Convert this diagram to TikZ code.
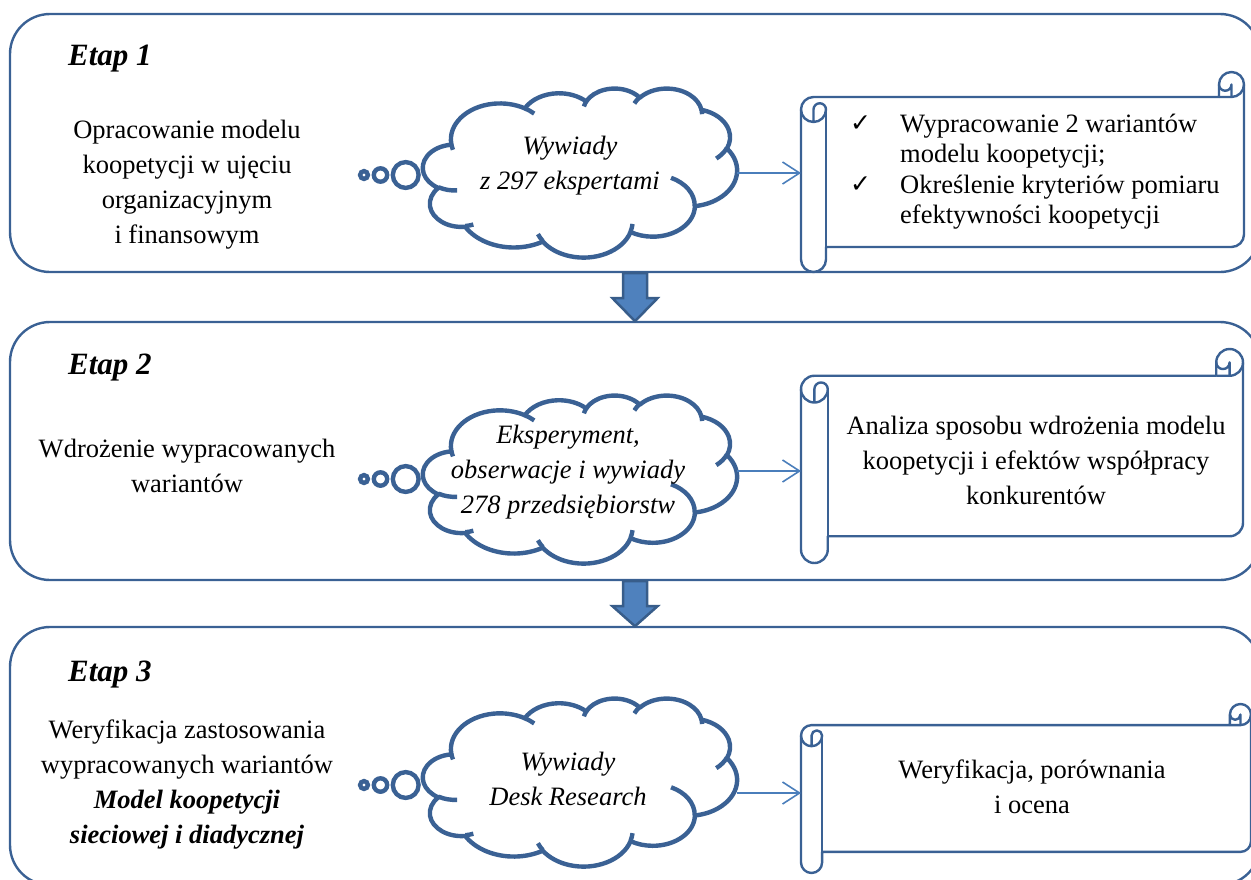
\documentclass[tikz,border=0pt]{standalone}
\usepackage{fontspec}
\setmainfont{Liberation Serif}
\newfontfamily\checkfont{DejaVu Sans}
\usetikzlibrary{calc,arrows.meta}

\definecolor{frameblue}{HTML}{3A6194}
\definecolor{linkblue}{HTML}{4A7EBB}
\definecolor{arrowfill}{HTML}{4F81BD}
\definecolor{arrowedge}{HTML}{385D8A}

% Elliptical arc appended to a path buffer. Start and sweep are ray angles
% (degrees, clockwise in a y-down frame); they are turned into the
% parametric angles that TikZ's arc expects.
\newcommand\appendarc[5]{%
  \pgfmathsetmacro\arcS{atan2((#2)*sin(#4),(#3)*cos(#4))}%
  \pgfmathsetmacro\arcE{atan2((#2)*sin((#4)+(#5)),(#3)*cos((#4)+(#5)))}%
  \pgfmathsetmacro\arcD{(\arcE)-(\arcS)}%
  \pgfmathsetmacro\arcD{(\arcD)+360*round(((#5)-(\arcD))/360)}%
  \xdef#1{#1 arc[start angle=\arcS,delta angle=\arcD,x radius=#2,y radius=#3]}%
}

% Cloud outline in a 432 x 432 frame
\gdef\cloudout{(39,143.7)}
\appendarc\cloudout{67.53}{91.90}{-190.4875}{123.7805}
\appendarc\cloudout{53.33}{72.67}{-144.1024}{89.9452}
\appendarc\cloudout{43.65}{59.45}{-145.8079}{99.7230}
\appendarc\cloudout{48.57}{65.95}{-130.9861}{117.2417}
\appendarc\cloudout{53.33}{72.73}{-78.7089}{109.0269}
\appendarc\cloudout{67.75}{92.20}{-46.2673}{130.2690}
\appendarc\cloudout{57.85}{78.67}{0.6250}{114.0333}
\appendarc\cloudout{67.52}{92.15}{22.4516}{115.1726}
\appendarc\cloudout{77.20}{105.43}{66.2426}{75.7110}
\appendarc\cloudout{43.60}{59.18}{-274.9421}{146.7356}
\appendarc\cloudout{43.45}{59.45}{-246.8285}{152.5189}
\xdef\cloudout{\cloudout -- cycle}

% Short inner strokes where the puffs overlap
\gdef\cloudin{}
\newcommand\innerarc[6]{\xdef\cloudin{\cloudin (#1,#2)}\appendarc\cloudin{#3}{#4}{#5}{#6}}
\innerarc{46.93}{261.77}{43.45}{59.45}{86.7420}{26.4295}
\innerarc{69.28}{348.99}{43.60}{59.18}{73.6105}{11.4475}
\innerarc{164.78}{390.90}{67.52}{92.15}{137.6242}{14.0811}
\innerarc{288.27}{347.51}{67.52}{92.15}{6.4533}{15.9984}
\innerarc{341.29}{229.54}{57.85}{78.67}{-70.2924}{70.9174}
\innerarc{417.98}{153.54}{53.33}{72.73}{30.3180}{27.7515}
\innerarc{383.24}{54.26}{48.57}{65.95}{-13.7443}{14.8589}
\innerarc{290.78}{39.52}{48.57}{65.95}{-149.1815}{18.1954}
\innerarc{221.41}{47.20}{43.65}{59.45}{-163.4943}{17.6864}
\innerarc{140.00}{51.92}{67.53}{91.90}{-66.7070}{12.3194}
\innerarc{41.27}{157.89}{67.53}{91.90}{157.6544}{11.8582}

\tikzset{
  stagebox/.style={draw=frameblue, line width=2.4pt, rounded corners=40pt,
    minimum width=1250pt, minimum height=258pt, inner sep=0pt},
  cloudline/.style={draw=frameblue, line width=4.4pt, line join=round, fill=white},
  bubble/.style={draw=frameblue, line width=4.4pt, fill=white},
  scrollline/.style={draw=frameblue, line width=2.4pt, line join=round},
  link/.style={draw=linkblue, line width=1.6pt, -{Straight Barb[length=17pt,width=22pt]}},
  blockarrow/.style={fill=arrowfill, draw=arrowedge, line width=2.5pt},
  area/.style={inner sep=0pt, outer sep=0pt},
  txt/.style={font=\fontsize{26.5}{35}\selectfont, align=center, inner sep=0pt},
  cloudtxt/.style={txt, font=\fontsize{26.5}{35}\selectfont\itshape},
  listtxt/.style={font=\fontsize{26.5}{30.5}\selectfont, align=left, inner sep=0pt},
  stagelabel/.style={font=\fontsize{31}{35}\selectfont\bfseries\itshape, inner sep=0pt, anchor=base west},
  tick/.style={font=\fontsize{25}{26}\selectfont\checkfont, inner sep=0pt}
}

% cloud: left, top, width, height
\newcommand\drawcloud[4]{%
  \begin{scope}[shift={(#1,#2)},xscale=#3/432,yscale=#4/432]
    \path[cloudline] \cloudout;
    \path[cloudline,fill=none] \cloudin;
  \end{scope}}

% horizontal scroll: left, top, width, height, roll size
\newcommand\drawscroll[5]{%
  \begin{scope}[shift={(#1,#2)}]
    \pgfmathsetmacro\sW{#3}\pgfmathsetmacro\sB{#4}%
    \pgfmathsetmacro\sC{#5}\pgfmathsetmacro\sH{#5/2}\pgfmathsetmacro\sQ{#5/4}%
    \draw[scrollline,fill=white] (0,1.5*\sC) arc[start angle=180,delta angle=90,radius=\sH]
      -- (\sW-\sC,\sC) -- (\sW-\sC,\sH) arc[start angle=180,delta angle=180,radius=\sH]
      -- (\sW,\sB-1.5*\sC) arc[start angle=0,delta angle=90,radius=\sH]
      -- (\sC,\sB-\sC) -- (\sC,\sB-\sH) arc[start angle=0,delta angle=180,radius=\sH] -- cycle;
    \draw[scrollline] (\sW-\sC,\sC) -- (\sW-\sH,\sC) arc[start angle=90,delta angle=-90,radius=\sH];
    \draw[scrollline] (\sW-\sH,\sC) -- (\sW-\sH,\sH) arc[start angle=0,delta angle=180,radius=\sQ];
    \draw[scrollline] (\sH,2*\sC) -- (\sH,1.5*\sC) arc[start angle=180,delta angle=180,radius=\sQ]
      arc[start angle=0,delta angle=180,radius=\sH];
    \draw[scrollline] (\sC,1.5*\sC) -- (\sC,\sB-\sC);
  \end{scope}}

\begin{document}
\begin{tikzpicture}[x=1pt,y=-1pt]
\useasboundingbox (0,0) rectangle (1251,879);
\clip (0,0) rectangle (1251,879);

% stage frames
\node[stagebox] (stage1) at (635,143) {};
\node[stagebox] (stage2) at (635,451) {};
\node[stagebox] (stage3) at (635,756) {};

% block arrows between stages
\draw[blockarrow] ($(stage1.south)+(-12,0)$) -- ++(0,25) -- ++(-10.5,0)
  -- ($(stage1.south)+(0,48)$) -- ($(stage1.south)+(22.5,25)$) -- ++(-10.5,0) -- ++(0,-25) -- cycle;
\draw[blockarrow] ($(stage2.south)+(-12,0)$) -- ++(0,25) -- ++(-10.5,0)
  -- ($(stage2.south)+(0,45)$) -- ($(stage2.south)+(22.5,25)$) -- ++(-10.5,0) -- ++(0,-25) -- cycle;

% thought clouds
\drawcloud{423}{88}{314}{169}
\drawcloud{423}{395}{314}{168}
\drawcloud{423}{698}{314}{168}
\node[area, minimum width=314pt, minimum height=169pt] (cloud1) at (580,172.5) {};
\node[area, minimum width=314pt, minimum height=168pt] (cloud2) at (580,479) {};
\node[area, minimum width=314pt, minimum height=168pt] (cloud3) at (580,782) {};

% thought bubbles
\foreach \k/\yy in {1/175,2/479,3/785}{
  \draw[bubble] (364,\yy) circle[radius=3.9];
  \draw[bubble] (380.5,\yy) circle[radius=6.7];
  \draw[bubble] (405.7,\yy) circle[radius=12.9];
}

% result scrolls
\drawscroll{801}{72}{443}{200}{25}
\drawscroll{801}{349}{442}{214}{26.75}
\drawscroll{801}{704}{450}{169}{21.1}
\node[area, minimum width=443pt, minimum height=200pt] (scroll1) at (1022.5,172) {};
\node[area, minimum width=442pt, minimum height=214pt] (scroll2) at (1022,456) {};
\node[area, minimum width=450pt, minimum height=169pt] (scroll3) at (1026,788.5) {};

% connectors cloud -> scroll
\coordinate (out1) at (737,173);
\coordinate (out2) at (737,471);
\coordinate (out3) at (737,793);
\draw[link] (out1) -- (out1 -| scroll1.west);
\draw[link] (out2) -- (out2 -| scroll2.west);
\draw[link] (out3) -- (out3 -| scroll3.west);

% stage labels
\node[stagelabel] (etap1) at (68,65) {Etap 1};
\node[stagelabel] (etap2) at (68,374) {Etap 2};
\node[stagelabel] (etap3) at (68,681) {Etap 3};

% stage descriptions
\node[txt] (desc1) at (187,185) {Opracowanie modelu\\koopetycji w ujęciu\\organizacyjnym\\i finansowym};
\node[txt] (desc2) at (187,466) {Wdrożenie wypracowanych\\wariantów};
\node[txt] (desc3) at (187,784.5) {Weryfikacja zastosowania\\wypracowanych wariantów\\\textbf{\textit{Model koopetycji}}\\\textbf{\textit{sieciowej i diadycznej}}};

% methods
\node[cloudtxt] (meth1) at (570,165.5) {Wywiady\\z 297 ekspertami};
\node[cloudtxt] (meth2) at (568,472.5) {Eksperyment,\\obserwacje i wywiady\\278 przedsiębiorstw};
\node[cloudtxt] (meth3) at (568,779) {Wywiady\\Desk Research};

% results
\node[tick] (tick1) at (860.5,124) {✓};
\node[tick] (tick2) at (860.5,184.5) {✓};
\node[listtxt, anchor=west] (res1) at (900,171.5) {Wypracowanie 2 wariantów\\modelu koopetycji;\\Określenie kryteriów pomiaru\\efektywności koopetycji};
\node[txt] (res2) at (1036,460) {Analiza sposobu wdrożenia modelu\\koopetycji i efektów współpracy\\konkurentów};
\node[txt] (res3) at (1032,786.5) {Weryfikacja, porównania\\i ocena};
\end{tikzpicture}
\end{document}
